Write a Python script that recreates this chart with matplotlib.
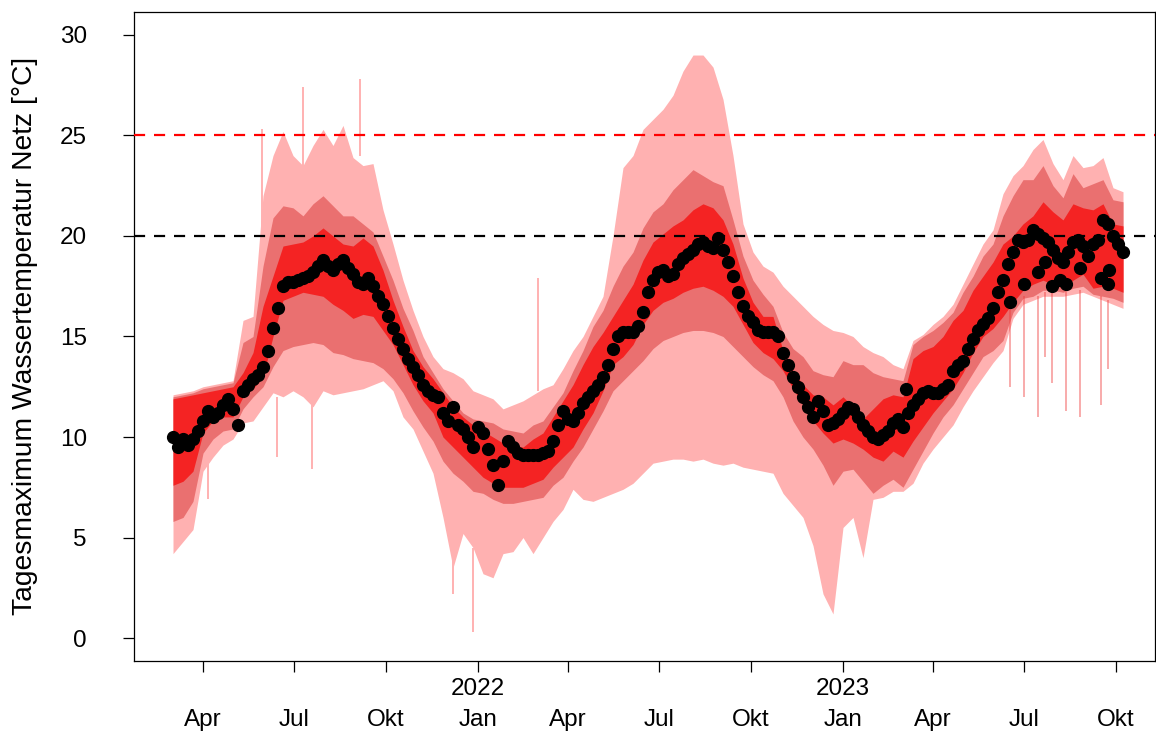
import pandas as pd
import matplotlib
matplotlib.use('Agg')
import matplotlib.pyplot as plt

plt.rcParams['font.family'] = ['Liberation Sans', 'DejaVu Sans']

# network envelope of the daily maximum, one value every 10 days
band_dates = pd.date_range('2021-03-02', periods=96, freq='10D')
t_max = [12.1, 12.2, 12.3, 12.5, 12.6, 12.7, 12.8, 15.8, 16.0, 22.0,
         24.0, 25.2, 24.0, 23.5, 24.5, 25.3, 24.5, 25.5, 23.9, 23.5,
         23.6, 21.3, 19.6, 17.8, 16.3, 15.0, 14.0, 13.4, 13.2, 12.9,
         12.3, 12.1, 11.9, 11.4, 11.6, 11.8, 12.1, 12.4, 12.6, 13.4,
         14.3, 15.0, 16.0, 17.0, 20.0, 23.4, 24.0, 25.3, 25.8, 26.3,
         27.0, 28.2, 29.0, 29.0, 28.4, 26.8, 24.0, 20.6, 19.2, 18.5,
         18.2, 17.5, 17.0, 16.5, 16.0, 15.6, 15.3, 15.2, 15.0, 14.5,
         14.2, 14.0, 13.6, 13.4, 14.8, 15.1, 15.6, 16.0, 16.6, 17.6,
         18.6, 19.6, 20.3, 22.1, 23.0, 23.5, 24.3, 24.8, 23.6, 22.8,
         24.0, 23.4, 23.5, 23.9, 22.4, 22.2]
t_q90 = [12.0, 12.1, 12.2, 12.4, 12.5, 12.6, 12.7, 14.7, 15.0, 18.5,
         20.9, 21.5, 21.4, 21.0, 21.6, 22.0, 21.5, 21.0, 21.0, 20.6,
         20.2, 19.0, 17.8, 16.4, 15.3, 14.0, 13.2, 12.4, 11.8, 11.2,
         10.9, 10.8, 10.7, 10.4, 10.3, 10.2, 10.6, 10.8, 11.5, 12.2,
         13.3, 14.3, 15.5, 16.3, 17.5, 18.5, 19.2, 20.4, 21.2, 21.6,
         22.3, 22.8, 23.3, 23.0, 22.7, 22.5, 20.8, 19.0, 17.8, 17.1,
         16.5, 15.2, 14.4, 14.0, 13.3, 13.1, 13.0, 13.8, 13.6, 13.6,
         13.2, 13.0, 12.9, 12.8, 14.6, 15.0, 15.3, 15.7, 16.2, 17.2,
         18.0, 19.0, 19.6, 21.0, 22.0, 22.8, 22.8, 23.5, 22.5, 21.9,
         23.1, 22.4, 22.6, 22.8, 21.8, 21.7]
t_q75 = [11.9, 12.0, 12.1, 12.2, 12.3, 12.4, 12.5, 13.2, 14.2, 16.5,
         18.0, 19.5, 19.6, 19.7, 20.0, 20.4, 20.0, 19.6, 19.5, 19.9,
         19.5, 18.3, 16.8, 15.5, 14.3, 13.5, 12.9, 12.2, 11.5, 11.0,
         10.6, 10.3, 10.0, 9.7, 9.6, 9.5, 9.9, 10.2, 11.0, 11.8,
         12.6, 13.6, 14.5, 15.2, 16.0, 16.8, 17.6, 18.8, 19.7, 20.1,
         20.5, 20.8, 21.3, 21.6, 21.4, 20.8, 19.6, 17.9, 16.7, 16.0,
         16.0, 14.3, 13.3, 12.6, 12.1, 12.0, 11.6, 12.0, 11.5, 10.9,
         11.4, 11.9, 12.1, 12.0, 13.9, 14.3, 14.5, 15.0, 15.8, 16.3,
         17.3, 18.0, 18.7, 19.6, 20.0, 20.6, 21.0, 21.7, 21.2, 20.8,
         21.6, 21.4, 21.3, 21.6, 20.6, 20.5]
t_q25 = [7.6, 7.8, 8.3, 10.2, 10.8, 11.0, 11.0, 12.0, 12.4, 13.0,
         15.0, 16.8, 17.0, 17.2, 17.1, 17.0, 16.6, 16.3, 15.9, 16.1,
         16.0, 15.3, 14.6, 13.6, 12.6, 11.8, 11.2, 10.0, 9.5, 9.0,
         8.5, 8.0, 7.7, 7.5, 7.5, 7.5, 7.7, 7.9, 8.5, 9.0,
         9.5, 10.4, 11.2, 12.3, 13.6, 14.0, 14.6, 15.6, 16.3, 16.7,
         16.9, 17.2, 17.4, 17.5, 17.3, 17.0, 16.5, 15.6, 14.7, 14.2,
         13.9, 13.3, 12.4, 11.6, 10.8, 10.2, 9.7, 9.9, 9.7, 9.4,
         9.0, 8.8, 9.3, 9.0, 9.8, 10.5, 11.2, 11.8, 12.4, 13.2,
         14.2, 15.0, 15.4, 16.0, 16.7, 17.3, 17.6, 17.8, 17.6, 17.4,
         17.8, 18.1, 17.4, 17.5, 17.4, 17.2]
t_q10 = [5.8, 6.0, 6.8, 9.2, 9.9, 10.3, 10.4, 11.4, 12.0, 12.5,
         13.5, 14.3, 14.5, 14.6, 14.7, 14.6, 14.2, 14.1, 13.9, 13.8,
         13.7, 13.4, 12.9, 12.2, 11.3, 10.5, 9.8, 8.8, 8.2, 7.8,
         7.3, 7.2, 6.9, 6.7, 6.7, 6.8, 6.9, 7.0, 7.6, 8.0,
         8.8, 9.5, 10.4, 11.3, 12.3, 12.8, 13.3, 13.8, 14.4, 14.8,
         15.0, 15.2, 15.3, 15.3, 15.2, 15.0, 14.5, 14.0, 13.5, 13.1,
         12.8, 12.0, 10.8, 10.0, 9.4, 8.6, 7.6, 8.3, 8.4, 7.8,
         7.2, 7.6, 7.9, 7.5, 8.4, 9.3, 10.2, 11.0, 11.6, 12.4,
         13.2, 14.0, 14.3, 14.8, 16.2, 16.9, 17.0, 17.3, 17.3, 17.2,
         17.4, 17.5, 17.1, 17.0, 16.9, 16.7]
t_min = [4.2, 4.8, 5.4, 8.3, 9.0, 9.6, 9.9, 10.7, 10.8, 11.5,
         12.2, 12.0, 12.3, 12.0, 11.5, 12.3, 12.1, 12.2, 12.3, 12.4,
         12.6, 12.8, 12.3, 11.0, 10.4, 9.3, 8.2, 6.0, 3.5, 5.2,
         4.5, 3.2, 3.0, 4.2, 4.3, 5.0, 4.2, 5.0, 5.8, 6.4,
         7.4, 6.9, 6.8, 7.0, 7.2, 7.4, 7.7, 8.2, 8.7, 8.8,
         8.9, 8.9, 8.8, 8.9, 8.7, 8.6, 8.7, 8.5, 8.4, 8.3,
         8.2, 7.2, 6.6, 6.0, 4.6, 2.2, 1.2, 5.5, 6.0, 4.0,
         6.9, 7.0, 7.3, 7.3, 7.7, 8.7, 9.4, 10.0, 10.6, 11.5,
         12.3, 13.0, 13.7, 14.3, 15.9, 16.6, 16.8, 17.0, 17.0, 17.0,
         17.1, 17.2, 17.0, 16.8, 16.6, 16.4]

# single-day excursions of the envelope
pink_spike_dates = pd.to_datetime(['2021-04-06', '2021-05-30', '2021-06-14',
                                   '2021-07-10', '2021-07-19', '2021-09-05',
                                   '2021-12-07', '2021-12-27', '2022-03-02'])
pink_spike_lo = [6.9, 20.0, 9.0, 23.5, 8.4, 24.0, 2.2, 0.3, 12.3]
pink_spike_hi = [9.5, 25.3, 12.0, 27.4, 11.8, 27.8, 5.0, 4.5, 17.9]

red_spike_dates = pd.to_datetime(['2023-06-17', '2023-07-01', '2023-07-15',
                                  '2023-07-22', '2023-07-29', '2023-08-12',
                                  '2023-08-26', '2023-09-16', '2023-09-23'])
red_spike_lo = [12.5, 12.0, 11.0, 14.0, 12.7, 11.3, 11.0, 11.6, 13.4]
red_spike_hi = [16.5, 17.0, 17.0, 17.2, 17.2, 17.2, 17.3, 17.0, 16.8]

# reference station, one value every 5 days
pt_dates = pd.date_range('2021-03-02', periods=191, freq='5D')
pt_vals = [10.0, 9.5, 9.9, 9.6, 9.9, 10.3, 10.8, 11.3, 11.0, 11.2,
           11.6, 11.9, 11.4, 10.6, 12.3, 12.6, 12.9, 13.1, 13.5, 14.3,
           15.4, 16.4, 17.5, 17.7, 17.7, 17.8, 17.9, 18.0, 18.2, 18.5,
           18.8, 18.5, 18.3, 18.6, 18.8, 18.4, 18.1, 17.7, 17.6, 17.9,
           17.5, 17.0, 16.6, 16.0, 15.4, 14.9, 14.4, 13.9, 13.5, 13.1,
           12.6, 12.3, 12.1, 12.0, 11.2, 10.8, 11.5, 10.6, 10.4, 10.0,
           9.5, 10.5, 10.2, 9.4, 8.6, 7.6, 8.8, 9.8, 9.5, 9.2,
           9.1, 9.1, 9.1, 9.1, 9.2, 9.3, 9.8, 10.6, 11.3, 10.9,
           10.8, 11.2, 11.7, 12.0, 12.3, 12.6, 13.0, 13.6, 14.4, 15.0,
           15.2, 15.2, 15.2, 15.5, 16.2, 17.2, 17.8, 18.2, 18.3, 18.0,
           18.1, 18.6, 18.9, 19.1, 19.3, 19.6, 19.7, 19.5, 19.4, 19.9,
           19.3, 18.7, 18.0, 17.2, 16.5, 16.0, 15.7, 15.3, 15.2, 15.2,
           15.2, 15.0, 14.2, 13.6, 13.0, 12.5, 12.0, 11.5, 11.0, 11.8,
           11.3, 10.6, 10.7, 10.9, 11.2, 11.5, 11.4, 11.0, 10.6, 10.3,
           10.0, 9.9, 10.1, 10.3, 10.7, 10.9, 10.5, 11.2, 11.6, 11.9,
           12.2, 12.3, 12.2, 12.2, 12.4, 12.6, 13.3, 13.6, 13.8, 14.4,
           14.9, 15.3, 15.6, 15.9, 16.4, 17.2, 17.8, 18.6, 19.2, 19.8,
           19.7, 19.8, 20.3, 20.1, 19.9, 19.7, 19.3, 18.9, 18.7, 19.2,
           19.7, 19.8, 19.5, 19.0, 19.6, 19.8, 20.8, 20.6, 20.0, 19.6,
           19.2]
pt_extra_dates = pd.to_datetime(['2023-03-05', '2023-06-17', '2023-07-01',
                                 '2023-07-15', '2023-07-22', '2023-07-29',
                                 '2023-08-06', '2023-08-12', '2023-08-26',
                                 '2023-09-16', '2023-09-23', '2023-09-24'])
pt_extra_vals = [12.4, 16.7, 17.6, 18.2, 18.7, 17.5, 17.8, 17.6, 18.4,
                 17.9, 17.6, 18.3]

limit_warn = 20
limit_crit = 25

tick_dates = pd.to_datetime(['2021-04-01', '2021-07-01', '2021-10-01',
                             '2022-01-01', '2022-04-01', '2022-07-01',
                             '2022-10-01', '2023-01-01', '2023-04-01',
                             '2023-07-01', '2023-10-01'])
tick_months = ['Apr', 'Jul', 'Okt', 'Jan', 'Apr', 'Jul', 'Okt', 'Jan', 'Apr', 'Jul', 'Okt']
tick_years = ['', '', '', '2022', '', '', '', '2023', '', '', '']

c_light = '#FFB1B1'
c_mid = '#EA7070'
c_red = '#F42323'

fig = plt.figure(figsize=(11.56, 7.35), dpi=100)
ax = fig.add_axes([134 / 1156, 1 - 661 / 735, 1021 / 1156, 649 / 735])

# envelope bands, widest first
ax.fill_between(band_dates, t_min, t_max, color=c_light, lw=0, zorder=1)
ax.vlines(pink_spike_dates, pink_spike_lo, pink_spike_hi, color=c_light, lw=1.4, zorder=1)
ax.fill_between(band_dates, t_q10, t_q90, color=c_mid, lw=0, zorder=2)
ax.fill_between(band_dates, t_q25, t_q75, color=c_red, lw=0, zorder=3)
ax.vlines(red_spike_dates, red_spike_lo, red_spike_hi, color='#F03C3C', alpha=0.5,
          lw=1.2, zorder=3)

# limit lines
ax.axhline(limit_crit, color='#FF0000', lw=1.6, ls=(0, (5, 4)), zorder=4)
ax.axhline(limit_warn, color='black', lw=1.6, ls=(0, (5, 4)), zorder=4)

# station values
ax.plot(pt_dates, pt_vals, 'o', color='black', ms=8.5, zorder=5)
ax.plot(pt_extra_dates, pt_extra_vals, 'o', color='black', ms=8.5, zorder=5)

ax.set_xlim(pd.Timestamp('2021-01-22'), pd.Timestamp('2023-11-09'))
ax.set_ylim(-1.14, 31.14)

ax.set_yticks([0, 5, 10, 15, 20, 25, 30])
ax.set_xticks(tick_dates)
ax.set_xticklabels([f"{y}\n{m}" for y, m in zip(tick_years, tick_months)],
                   linespacing=1.55)

ax.tick_params(axis='both', direction='out', length=8, width=0.9, labelsize=17.5)
ax.tick_params(axis='y', pad=26)
ax.tick_params(axis='x', pad=4)
for s in ax.spines.values():
    s.set_linewidth(0.9)

fig.text(25 / 1156, 1 - 336 / 735, 'Tagesmaximum Wassertemperatur Netz [°C]',
         rotation=90, ha='center', va='center', fontsize=20.3)

fig.savefig('out.png', dpi=100)
